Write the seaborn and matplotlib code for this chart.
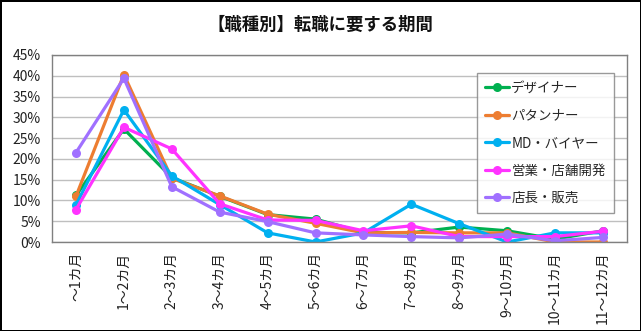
import matplotlib
matplotlib.use("Agg")
import matplotlib.pyplot as plt
import seaborn as sns
import pandas as pd
import numpy as np
from matplotlib.ticker import FuncFormatter, MultipleLocator

categories = ["～1カ月", "1～2カ月", "2～3カ月", "3～4カ月", "4～5カ月", "5～6カ月",
              "6～7カ月", "7～8カ月", "8～9カ月", "9～10カ月", "10～11カ月", "11～12カ月"]
series_names = ["デザイナー", "パタンナー", "MD・バイヤー", "営業・店舗開発", "店長・販売"]
designer = [11.2, 27.2, 15.5, 11.0, 6.6, 5.5, 2.3, 2.2, 3.6, 2.7, 0.7, 2.7]
patternmaker = [11.0, 40.3, 15.3, 11.1, 6.7, 4.5, 2.2, 2.3, 2.2, 2.2, 0.0, 0.0]
md_buyer = [8.9, 31.8, 15.9, 9.0, 2.2, 0.0, 2.2, 9.1, 4.4, 0.0, 2.2, 2.2]
sales = [7.8, 27.6, 22.4, 9.2, 5.3, 5.2, 2.7, 3.9, 1.3, 1.3, 1.3, 2.6]
shop = [21.5, 39.4, 13.3, 7.2, 4.9, 2.2, 1.7, 1.3, 1.0, 1.9, 0.3, 1.1]
colors = ["#00B050", "#ED7D31", "#00B0F0", "#FF33FF", "#A070FF"]

all_values = [designer, patternmaker, md_buyer, sales, shop]
rows = []
for name, vals in zip(series_names, all_values):
    for i, v in enumerate(vals):
        rows.append({"pos": i, "period": categories[i], "series": name, "value": v / 100})
df = pd.DataFrame(rows)

sns.set_theme(style="white")
plt.rcParams["font.family"] = ["Noto Sans CJK JP", "DejaVu Sans"]

fig = plt.figure(figsize=(6.41, 3.31), dpi=100, facecolor="white",
                 edgecolor="black", linewidth=2)
ax = fig.add_axes([52/641, 1 - 242/331, (627-52)/641, (242-55)/331])

sns.lineplot(data=df, x="pos", y="value", hue="series", hue_order=series_names,
             palette=colors, marker="o", markersize=6.5, markeredgewidth=0,
             linewidth=2.3, sort=False, ax=ax, legend=True)

ax.set_xlim(-0.5, len(categories) - 0.5)
ax.set_ylim(0, 0.45)
ax.yaxis.set_major_locator(MultipleLocator(0.05))
ax.yaxis.set_major_formatter(FuncFormatter(lambda v, p: f"{v*100:.0f}%"))
ax.set_xticks(range(len(categories)))
ax.set_xticklabels(categories, rotation=90, fontsize=10, color="#222222")
ax.tick_params(axis="y", labelsize=10, colors="#222222", length=0, pad=8)
ax.tick_params(axis="x", length=0, pad=7)
ax.grid(axis="y", color="#BFBFBF", linewidth=1)
ax.set_axisbelow(True)
for s in ax.spines.values():
    s.set_visible(True)
    s.set_color("#808080")
    s.set_linewidth(1)
ax.set_xlabel("")
ax.set_ylabel("")

leg = ax.legend(loc="upper left", bbox_to_anchor=((477-52)/575, 1 - (73-55)/187),
                borderaxespad=0, frameon=True, fontsize=9.7, handlelength=1.8,
                labelspacing=1.0, borderpad=0.6, handletextpad=0.15, fancybox=False)
leg.get_frame().set_edgecolor("#808080")
leg.get_frame().set_linewidth(1)

fig.text(0.5, 1 - 25/331, "【職種別】転職に要する期間", ha="center", va="center",
         fontsize=12.5, fontweight="bold", color="#111111")

fig.savefig("out.png", dpi=100, facecolor=fig.get_facecolor(), edgecolor=fig.get_edgecolor())
